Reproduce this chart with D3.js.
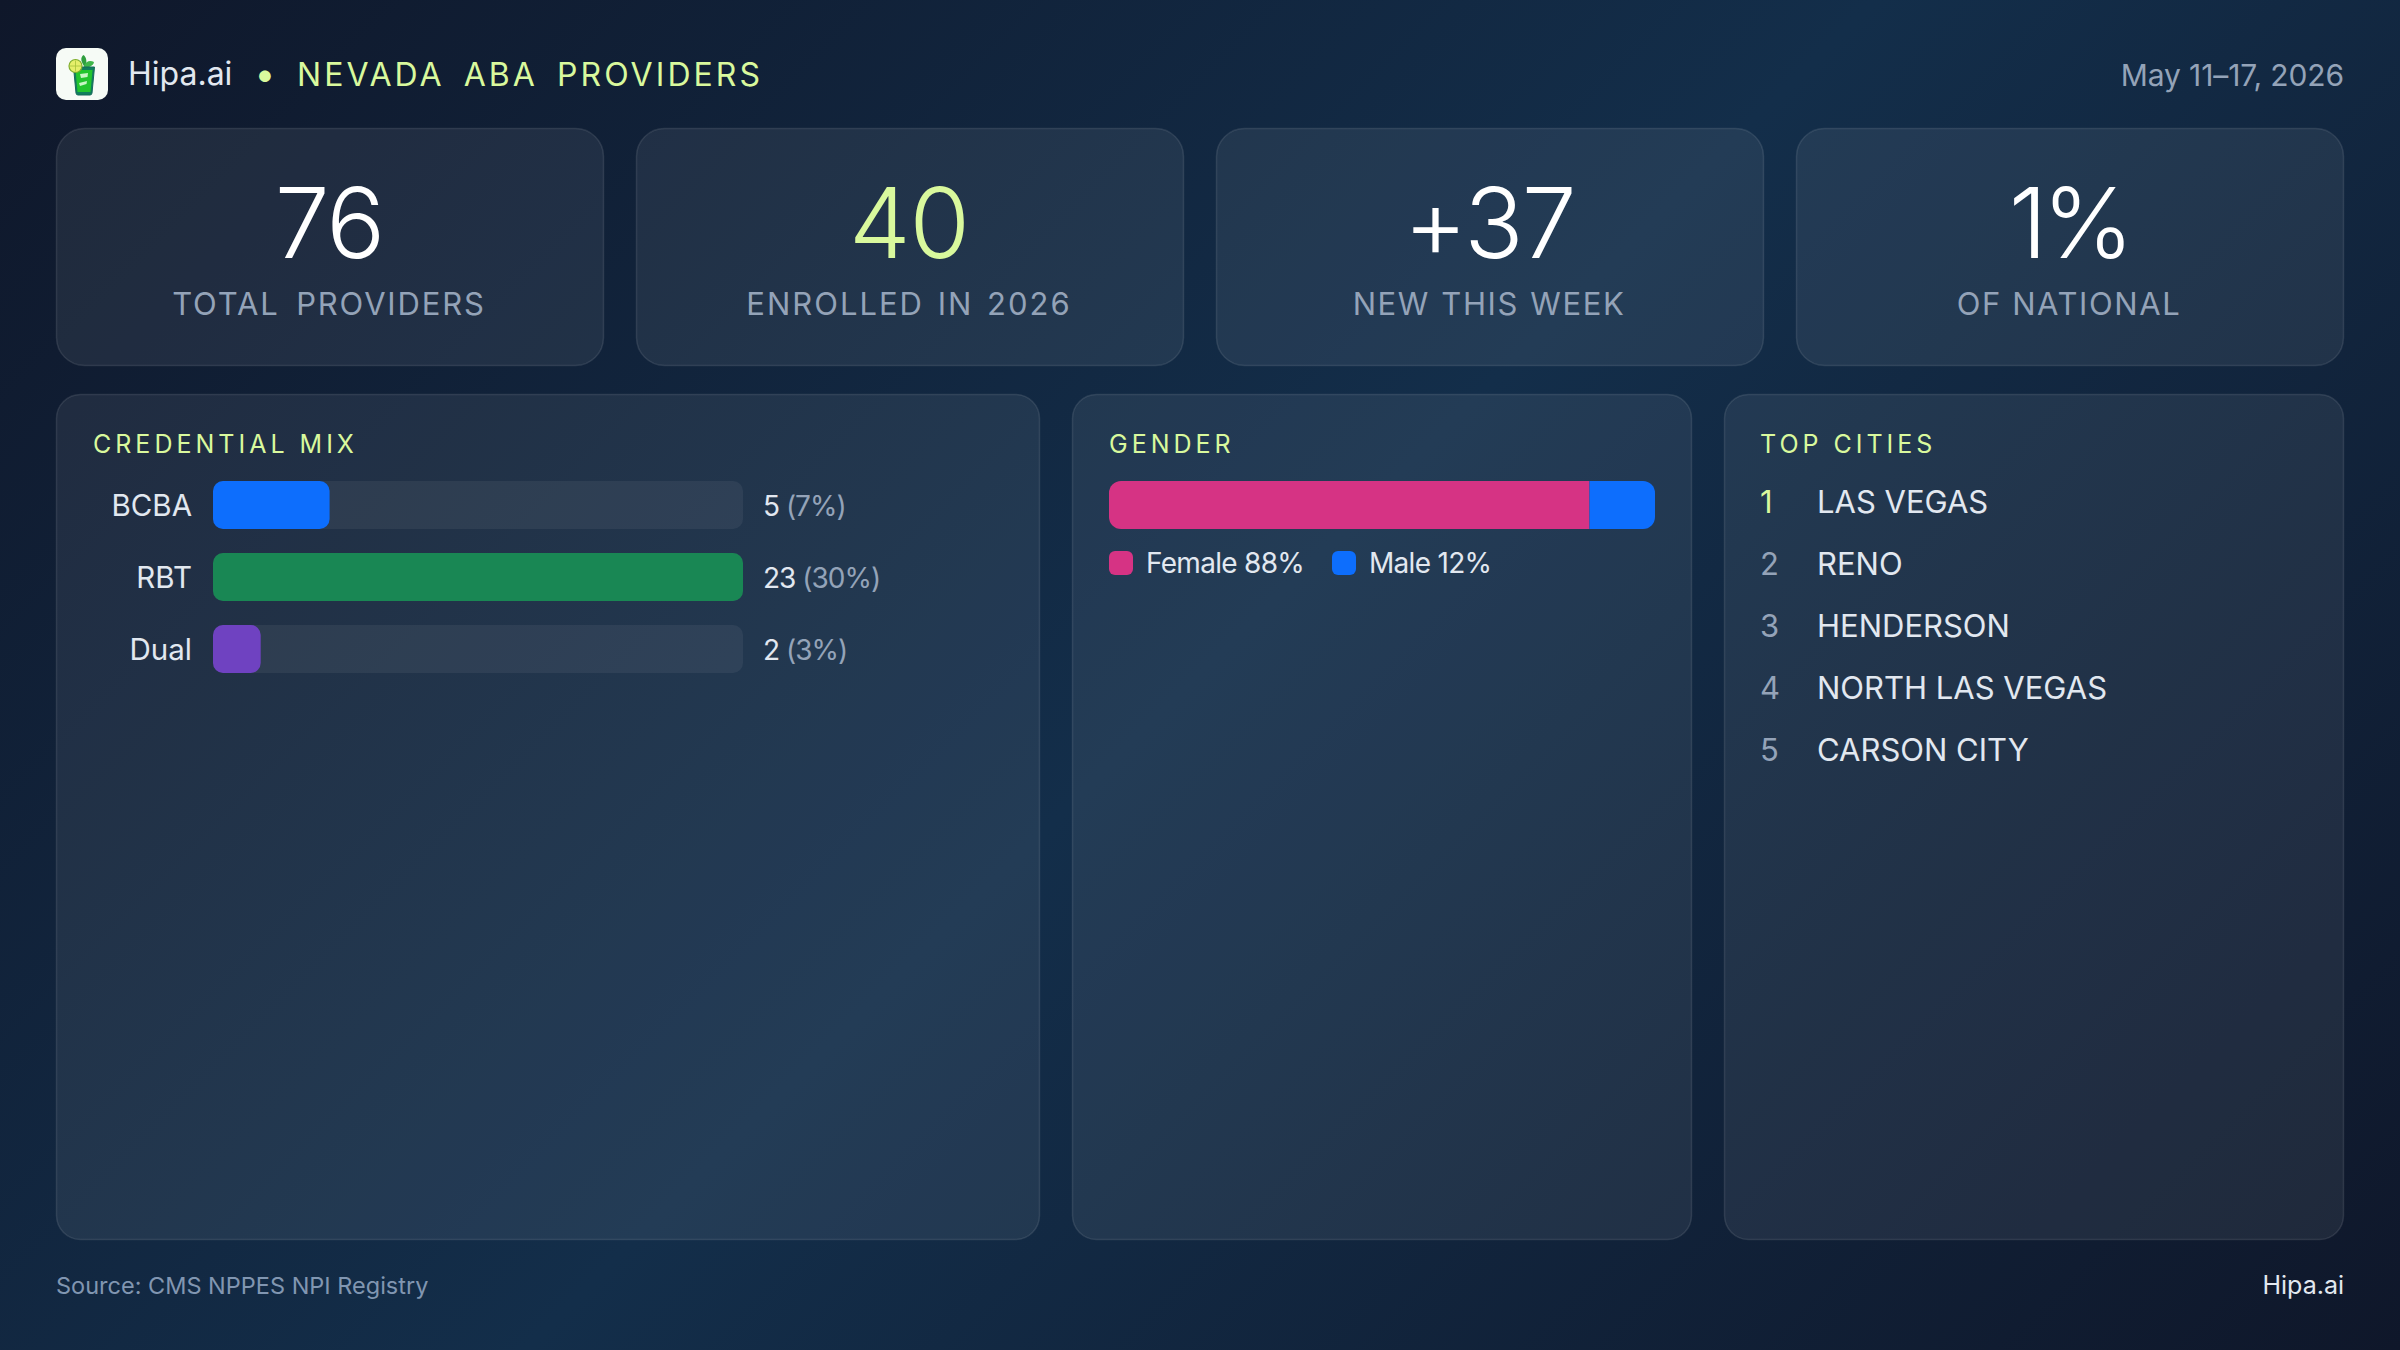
<!DOCTYPE html>
<html><head><meta charset="utf-8">
<script src="https://cdn.jsdelivr.net/npm/d3@7/dist/d3.min.js"></script>
<style>
html,body{margin:0;padding:0;width:2400px;height:1350px;overflow:hidden}
body{background:linear-gradient(135deg,#0f172a 0%,#132e4a 50%,#0f172a 100%)}
svg{display:block;font-family:Inter,sans-serif}
</style></head><body>
<svg id="c" width="2400" height="1350" viewBox="0 0 2400 1350"></svg>
<script>
const brandName = "Hipa.ai";
const reportTitle = "NEVADA ABA PROVIDERS";
const dateRange = "May 11–17, 2026";
const sourceNote = "Source: CMS NPPES NPI Registry";
const kpiValues = ["76", "40", "+37", "1%"];
const kpiLabels = ["TOTAL PROVIDERS", "ENROLLED IN 2026", "NEW THIS WEEK", "OF NATIONAL"];
const kpiAccent = [false, true, false, false];
const credentialLabels = ["BCBA", "RBT", "Dual"];
const credentialCounts = [5, 23, 2];
const credentialShares = ["(7%)", "(30%)", "(3%)"];
const credentialColors = ["#0d6efd", "#198754", "#6f42c1"];
const genderLabels = ["Female", "Male"];
const genderValues = [88, 12];
const genderColors = ["#d63384", "#0d6efd"];
const cityNames = ["LAS VEGAS", "RENO", "HENDERSON", "NORTH LAS VEGAS", "CARSON CITY"];

const LIME = "#d9f99d", MUTED = "#94a3b8", LIGHT = "#e2e8f0";
const svg = d3.select("#c");
const defs = svg.append("defs");

function text(g, x, y, s, o) {
  o = o || {};
  return g.append("text").attr("x", x).attr("y", y).text(s)
    .attr("font-size", o.size).attr("font-weight", o.weight || 400)
    .attr("fill", o.fill || LIGHT).attr("text-anchor", o.anchor || "start")
    .style("letter-spacing", (o.ls || 0) + "px").style("word-spacing", (o.ws || 0) + "px");
}
function box(x, y, w, h, r) {
  svg.append("rect").attr("x", x + .5).attr("y", y + .5).attr("width", w - 1).attr("height", h - 1).attr("rx", r)
    .attr("fill", "rgba(255,255,255,0.07)").attr("stroke", "rgba(255,255,255,0.1)").attr("stroke-width", 1.5);
}

// header logo
const logo = svg.append("g");
logo.append("rect").attr("x", 56).attr("y", 48).attr("width", 52).attr("height", 52).attr("rx", 10).attr("fill", "#f6fbf6");
logo.append("path").attr("d", "M84 66 C80 60 81 57 83.5 55 C86 57 87 60 86 66Z").attr("fill", "#2f9e3f");
logo.append("path").attr("d", "M84 66 C86 61 90 60 94 62 C93 66 89 68 84 67Z").attr("fill", "#3fb64a");
logo.append("path").attr("d", "M73.5 67 L94.5 67 L92 93 Q91.8 95 90 95 L78 95 Q76.2 95 76 93Z").attr("fill", "#0f7f5c").attr("stroke", "#17695a").attr("stroke-width", 1);
logo.append("path").attr("d", "M75.5 70 L92.5 70 L90.5 92 L77.5 92Z").attr("fill", "#22c52e");
logo.append("path").attr("d", "M80 74 L88 73 L87.5 77 L81 78Z M79 83 L87 81 L86.5 84 L80 86Z").attr("fill", "#c8f7c5");
logo.append("circle").attr("cx", 75.5).attr("cy", 66).attr("r", 6.5).attr("fill", "#e5ee6a").attr("stroke", "#7fae2e").attr("stroke-width", 1.2);
logo.append("path").attr("d", "M70 66 H81 M75.5 60.5 V71.5").attr("stroke", "#a6c23a").attr("stroke-width", .8);

// header text
text(svg, 128, 85, brandName, {size: 32, fill: LIGHT, ls: 0});
text(svg, 265, 87, "•", {size: 37, fill: LIME, anchor: "middle"});
text(svg, 297, 86, reportTitle, {size: 32, fill: LIME, ls: 3.05, ws: 7});
text(svg, 2344, 86, dateRange, {size: 30, fill: MUTED, anchor: "end", ls: -0.1});

// KPI cards
const kpiX = d3.scaleBand().domain(d3.range(kpiValues.length)).range([56, 2344]).paddingInner(32 / 580);
const kpiValueSpacing = [-2, -1, -2, -5];
const kpiLabelSpacing = [1.85, 2, 1.6, 1.6];
const kpiWordSpacing = [6, 3, 1, 0];
kpiValues.forEach((v, i) => {
  const x = kpiX(i), w = kpiX.bandwidth();
  box(x, 128, w, 238, 28);
  text(svg, x + w / 2 - 1, 258, v, {size: 98, weight: 350, fill: kpiAccent[i] ? LIME : "#ffffff", anchor: "middle", ls: kpiValueSpacing[i]});
  text(svg, x + w / 2 - 1, 315, kpiLabels[i], {size: 31, fill: MUTED, anchor: "middle", ls: kpiLabelSpacing[i], ws: kpiWordSpacing[i]});
});

// panels
box(56, 394, 984, 846, 24);
box(1072, 394, 620, 846, 24);
box(1724, 394, 620, 846, 24);
const titleOpt = {size: 25, fill: LIME, ls: 4};
text(svg, 93, 453, "CREDENTIAL MIX", titleOpt);
text(svg, 1109, 453, "GENDER", titleOpt);
text(svg, 1760, 453, "TOP CITIES", titleOpt);

// credential bars: widths are each count as a rounded percent of the largest
const maxCount = d3.max(credentialCounts);
const barX = d3.scaleLinear().domain([0, 100]).range([0, 530]);
const barY = d3.scaleBand().domain(credentialLabels).range([481, 673]).paddingInner(24 / 72).paddingOuter(0);
const bars = svg.append("g");
credentialLabels.forEach((c, i) => {
  const y = barY(c), h = barY.bandwidth();
  bars.append("rect").attr("x", 213).attr("y", y).attr("width", barX(100)).attr("height", h).attr("rx", 10).attr("fill", "rgba(255,255,255,0.06)");
  bars.append("rect").attr("x", 213).attr("y", y).attr("width", barX(Math.round(credentialCounts[i] / maxCount * 100))).attr("height", h).attr("rx", 10).attr("fill", credentialColors[i]);
  text(svg, 192, y + 35, c, {size: 29.5, anchor: "end"});
  const t = text(svg, 763, y + 35, credentialCounts[i] + " ", {size: 28, ls: -1});
  t.append("tspan").attr("fill", MUTED).text(credentialShares[i]);
});

// gender stacked bar
const gX = d3.scaleLinear().domain([0, 100]).range([1109, 1655]);
defs.append("clipPath").attr("id", "gclip").append("rect").attr("x", gX(0)).attr("y", 481).attr("width", gX(100) - gX(0)).attr("height", 48).attr("rx", 12);
const stack = d3.cumsum(genderValues);
const gBar = svg.append("g").attr("clip-path", "url(#gclip)");
genderValues.forEach((v, i) => {
  gBar.append("rect").attr("x", gX(stack[i] - v)).attr("y", 481).attr("width", gX(stack[i]) - gX(stack[i] - v)).attr("height", 48).attr("fill", genderColors[i]);
});
const legendX = [1109, 1332];
genderLabels.forEach((g, i) => {
  svg.append("rect").attr("x", legendX[i]).attr("y", 551).attr("width", 24).attr("height", 24).attr("rx", 6).attr("fill", genderColors[i]);
  text(svg, legendX[i] + 37, 573, g + " " + genderValues[i] + "%", {size: 28, ls: -0.7});
});

// cities
const cityY = d3.scalePoint().domain(d3.range(cityNames.length)).range([513, 761]);
cityNames.forEach((c, i) => {
  text(svg, 1760, cityY(i), String(i + 1), {size: 31, fill: i === 0 ? LIME : MUTED});
  text(svg, 1817, cityY(i), c, {size: 31});
});

// footer
text(svg, 56, 1294, sourceNote, {size: 23.5, fill: "#8196b1"});
text(svg, 2344, 1294, brandName, {size: 25, fill: LIGHT, anchor: "end"});
</script>
</body></html>
